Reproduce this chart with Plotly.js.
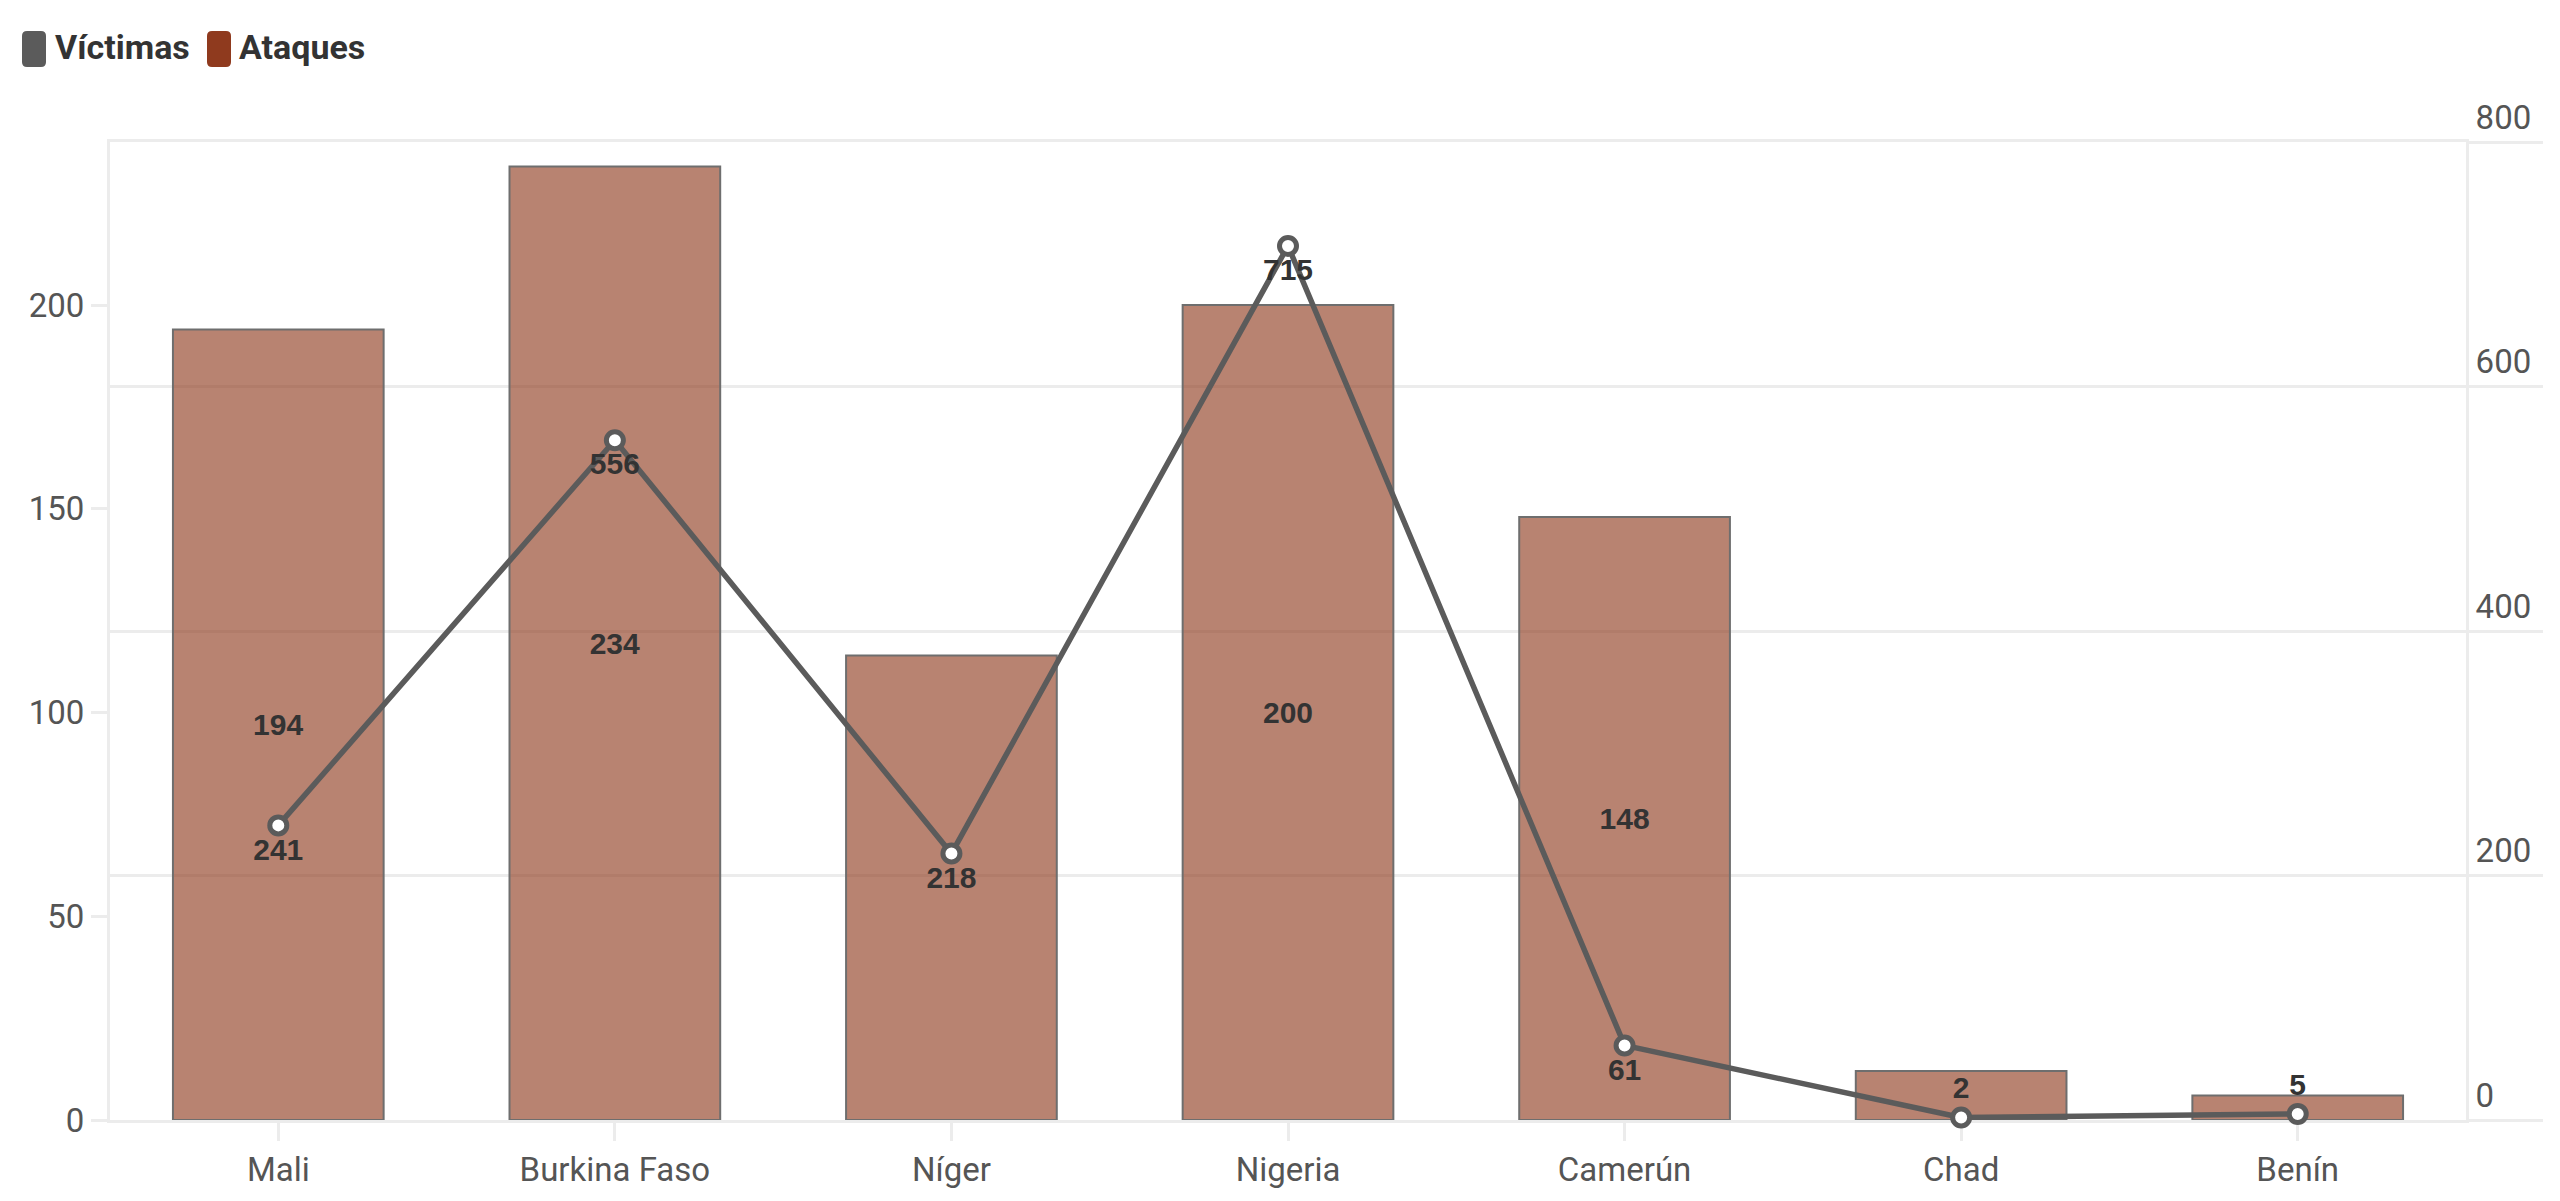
<!DOCTYPE html>
<html>
<head>
<meta charset="utf-8">
<script src="https://cdn.plot.ly/plotly-3.0.1.min.js"></script>
<style>
  html, body { margin: 0; padding: 0; background: #fff; }
  #chart { width: 2560px; height: 1201px; }
</style>
</head>
<body>
<div id="chart"></div>
<script>
// Ataques (bars, left axis) and Víctimas (line, right axis) by country
var paises = ['Mali', 'Burkina Faso', 'Níger', 'Nigeria', 'Camerún', 'Chad', 'Benín'];
var ataques = [194, 234, 114, 200, 148, 12, 6];
var victimas = [241, 556, 218, 715, 61, 2, 5];

// labels as shown on the chart (some bar labels are not drawn)
var ataquesLabels = ['194', '234', '', '200', '148', '', ''];
var victimasLabels = ['241', '556', '218', '715', '61', '2', '5'];
var victimasLabelPos = ['bottom center', 'bottom center', 'bottom center', 'bottom center',
                        'bottom center', 'top center', 'top center'];

var yTicks = [0, 50, 100, 150, 200];
var y2Ticks = [0, 200, 400, 600, 800];

var gris = '#5b5b5b';
var rojo = '#8f3a1e';
var grid = '#ececec';

var labelFont = { family: 'Liberation Sans, Arial, sans-serif', size: 30, color: '#333', weight: 'bold' };

var bars = {
    x: paises,
    y: ataques,
    type: 'bar',
    name: 'Ataques',
    text: ataquesLabels,
    textposition: 'inside',
    insidetextanchor: 'middle',
    textfont: labelFont,
    marker: {
        color: 'rgba(143,58,30,0.63)',
        line: { color: '#6e6e6e', width: 2 }
    },
    showlegend: false,
    hoverinfo: 'skip'
};

var line = {
    x: paises,
    y: victimas,
    yaxis: 'y2',
    type: 'scatter',
    mode: 'lines+markers+text',
    name: 'Víctimas',
    text: victimasLabels,
    textposition: victimasLabelPos,
    textfont: labelFont,
    line: { color: gris, width: 5.5 },
    marker: { size: 17, color: '#fff', line: { color: gris, width: 5 } },
    cliponaxis: false,
    showlegend: false,
    hoverinfo: 'skip'
};

// legend drawn by hand: rounded swatches + bold labels above the plot
function swatch(x0, color) {
    var x1 = x0 + 24, yt = 111, yb = 75, r = 5;
    return {
        type: 'path', xref: 'paper', yref: 'paper',
        xsizemode: 'pixel', ysizemode: 'pixel', xanchor: 0, yanchor: 1,
        path: 'M' + (x0 + r) + ',' + yt + ' L' + (x1 - r) + ',' + yt +
              ' Q' + x1 + ',' + yt + ' ' + x1 + ',' + (yt - r) +
              ' L' + x1 + ',' + (yb + r) + ' Q' + x1 + ',' + yb + ' ' + (x1 - r) + ',' + yb +
              ' L' + (x0 + r) + ',' + yb + ' Q' + x0 + ',' + yb + ' ' + x0 + ',' + (yb + r) +
              ' L' + x0 + ',' + (yt - r) + ' Q' + x0 + ',' + yt + ' ' + (x0 + r) + ',' + yt + ' Z',
        fillcolor: color, line: { width: 0 }
    };
}
function legendText(txt, shift) {
    return {
        text: txt, xref: 'paper', yref: 'paper', x: 0, y: 1,
        xanchor: 'left', yanchor: 'middle', xshift: shift, yshift: 95,
        showarrow: false,
        font: { family: 'Roboto, sans-serif', size: 34, color: '#333', weight: 'bold' }
    };
}

var tickFont = { family: 'Roboto, sans-serif', size: 33, color: '#555' };

var layout = {
    width: 2560,
    height: 1201,
    paper_bgcolor: '#fff',
    plot_bgcolor: '#fff',
    margin: { l: 110, r: 94, t: 142, b: 81 },
    bargap: 0.374,
    showlegend: false,
    xaxis: {
        type: 'category',
        range: [-0.5, 6.5],
        layer: 'below traces',
        showgrid: false,
        zeroline: false,
        showline: true,
        mirror: true,
        linecolor: grid,
        linewidth: 3,
        ticks: 'outside',
        ticklen: 18,
        tickwidth: 3,
        tickcolor: grid,
        tickfont: tickFont
    },
    yaxis: {
        range: [0, 240],
        tickvals: yTicks,
        layer: 'below traces',
        showgrid: false,
        zeroline: false,
        showline: true,
        linecolor: grid,
        linewidth: 3,
        ticks: 'outside',
        ticklen: 16,
        tickwidth: 3,
        tickcolor: grid,
        tickfont: tickFont
    },
    yaxis2: {
        overlaying: 'y',
        side: 'right',
        range: [0, 800],
        tickvals: y2Ticks,
        layer: 'below traces',
        showgrid: true,
        gridcolor: grid,
        gridwidth: 3,
        zeroline: false,
        showline: true,
        linecolor: grid,
        linewidth: 3,
        ticks: 'outside',
        ticklen: 74,
        tickwidth: 3,
        tickcolor: grid,
        ticklabelposition: 'outside top',
        tickfont: tickFont
    },
    shapes: [swatch(-88, gris), swatch(97, rojo)],
    annotations: [legendText('Víctimas', -57), legendText('Ataques', 127)]
};

Plotly.newPlot('chart', [bars, line], layout, { staticPlot: true });
</script>
</body>
</html>
